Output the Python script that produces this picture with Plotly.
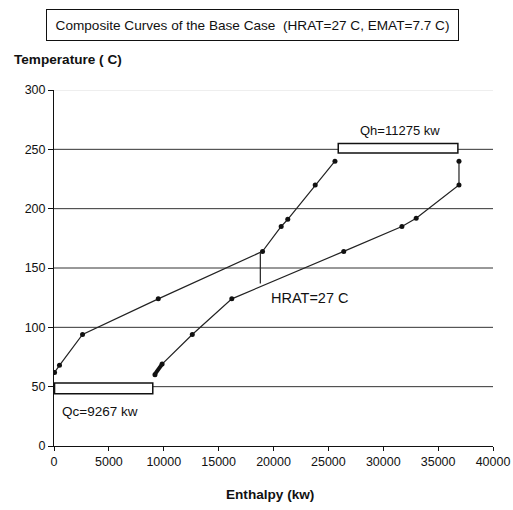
import plotly.graph_objects as go

# Hot composite curve (enthalpy kW, temperature C)
hot_h = [50, 500, 2600, 9500, 19000, 20700, 21300, 23800, 25600]
hot_t = [62, 68, 94, 124, 164, 185, 191, 220, 240]

# Cold composite curve
cold_h = [9200, 9850, 12600, 16200, 26400, 31700, 33000, 36900, 36900]
cold_t = [60, 69, 94, 124, 164, 185, 192, 220, 240]

# Dense start of cold curve (drawn as heavy segment)
cold_start_h = [9150, 9850]
cold_start_t = [60, 69]

# HRAT marker line
hrat_h = [18800, 18800]
hrat_t = [163, 137]

# Utility boxes [x0, x1, y0, y1]
qh_box = [25900, 36800, 247, 255]
qc_box = [50, 9000, 44, 53]

x_ticks = [0, 5000, 10000, 15000, 20000, 25000, 30000, 35000, 40000]
y_ticks = [0, 50, 100, 150, 200, 250, 300]
grid_vals = [50, 100, 150, 200, 250]

FONT = "Liberation Sans, Arial"

fig = go.Figure()
fig.add_trace(go.Scatter(x=hot_h, y=hot_t, mode="lines+markers",
                         line=dict(color="#222", width=1.2),
                         marker=dict(color="#111", size=5), showlegend=False))
fig.add_trace(go.Scatter(x=cold_h, y=cold_t, mode="lines+markers",
                         line=dict(color="#222", width=1.2),
                         marker=dict(color="#111", size=5), showlegend=False))
fig.add_trace(go.Scatter(x=cold_start_h, y=cold_start_t, mode="lines",
                         line=dict(color="#111", width=4), showlegend=False))
fig.add_trace(go.Scatter(x=hrat_h, y=hrat_t, mode="lines",
                         line=dict(color="#222", width=1.2), showlegend=False))

shapes = []
for g in grid_vals:
    shapes.append(dict(type="line", xref="paper", yref="y", x0=0, x1=1, y0=g, y1=g,
                       line=dict(color="#333", width=1), layer="below"))
shapes.append(dict(type="line", xref="paper", yref="y", x0=0, x1=1, y0=300, y1=300,
                   line=dict(color="#dddddd", width=1), layer="below"))
for b in (qh_box, qc_box):
    shapes.append(dict(type="rect", xref="x", yref="y", x0=b[0], x1=b[1], y0=b[2], y1=b[3],
                       line=dict(color="#111", width=1.5), fillcolor="white"))

annotations = [
    dict(text="Composite Curves of the Base Case  (HRAT=27 C, EMAT=7.7 C)",
         xref="paper", yref="paper", x=0.453, y=1.1826, xanchor="center", yanchor="middle",
         showarrow=False, font=dict(size=13.6, color="#111", family=FONT),
         bordercolor="#111", borderwidth=1, borderpad=1, width=409, height=28),
    dict(text="<b>Temperature ( C)</b>", xref="paper", yref="paper", x=-0.0957, y=1.0843,
         xanchor="left", yanchor="middle", showarrow=False,
         font=dict(size=13.6, color="#111", family=FONT)),
    dict(text="<b>Enthalpy (kw)</b>", xref="paper", yref="paper", x=0.492, y=-0.1376,
         xanchor="center", yanchor="middle", showarrow=False,
         font=dict(size=13.6, color="#111", family=FONT)),
    dict(text="Qh=11275 kw", x=31500, y=266, xanchor="center", yanchor="middle",
         showarrow=False, font=dict(size=13, color="#111", family=FONT)),
    dict(text="HRAT=27 C", x=19600, y=125, xanchor="left", yanchor="middle",
         showarrow=False, font=dict(size=14.5, color="#111", family=FONT)),
    dict(text="Qc=9267 kw", x=550, y=29, xanchor="left", yanchor="middle",
         showarrow=False, font=dict(size=13.5, color="#111", family=FONT)),
]

fig.update_layout(
    width=513, height=510,
    margin=dict(l=54, r=20, t=90, b=64, autoexpand=False),
    paper_bgcolor="white", plot_bgcolor="white",
    font=dict(family=FONT, size=12.5, color="#111"),
    shapes=shapes, annotations=annotations,
    xaxis=dict(range=[0, 40000], tickvals=x_ticks, ticktext=[str(v) for v in x_ticks],
               showgrid=False, zeroline=False, showline=True, linecolor="#111", linewidth=1,
               ticks="outside", ticklen=4, tickcolor="#111", tickfont=dict(size=12.5),
               automargin=False),
    yaxis=dict(range=[0, 300], tickvals=y_ticks, ticktext=[str(v) for v in y_ticks],
               showgrid=False, zeroline=False, showline=True, linecolor="#111", linewidth=1,
               ticks="outside", ticklen=5, tickcolor="#111", tickfont=dict(size=12.5),
               automargin=False),
)

fig.write_html("out.html", config={"displayModeBar": False},
               post_script="document.body.style.margin='0px';document.body.style.overflow='hidden';")
